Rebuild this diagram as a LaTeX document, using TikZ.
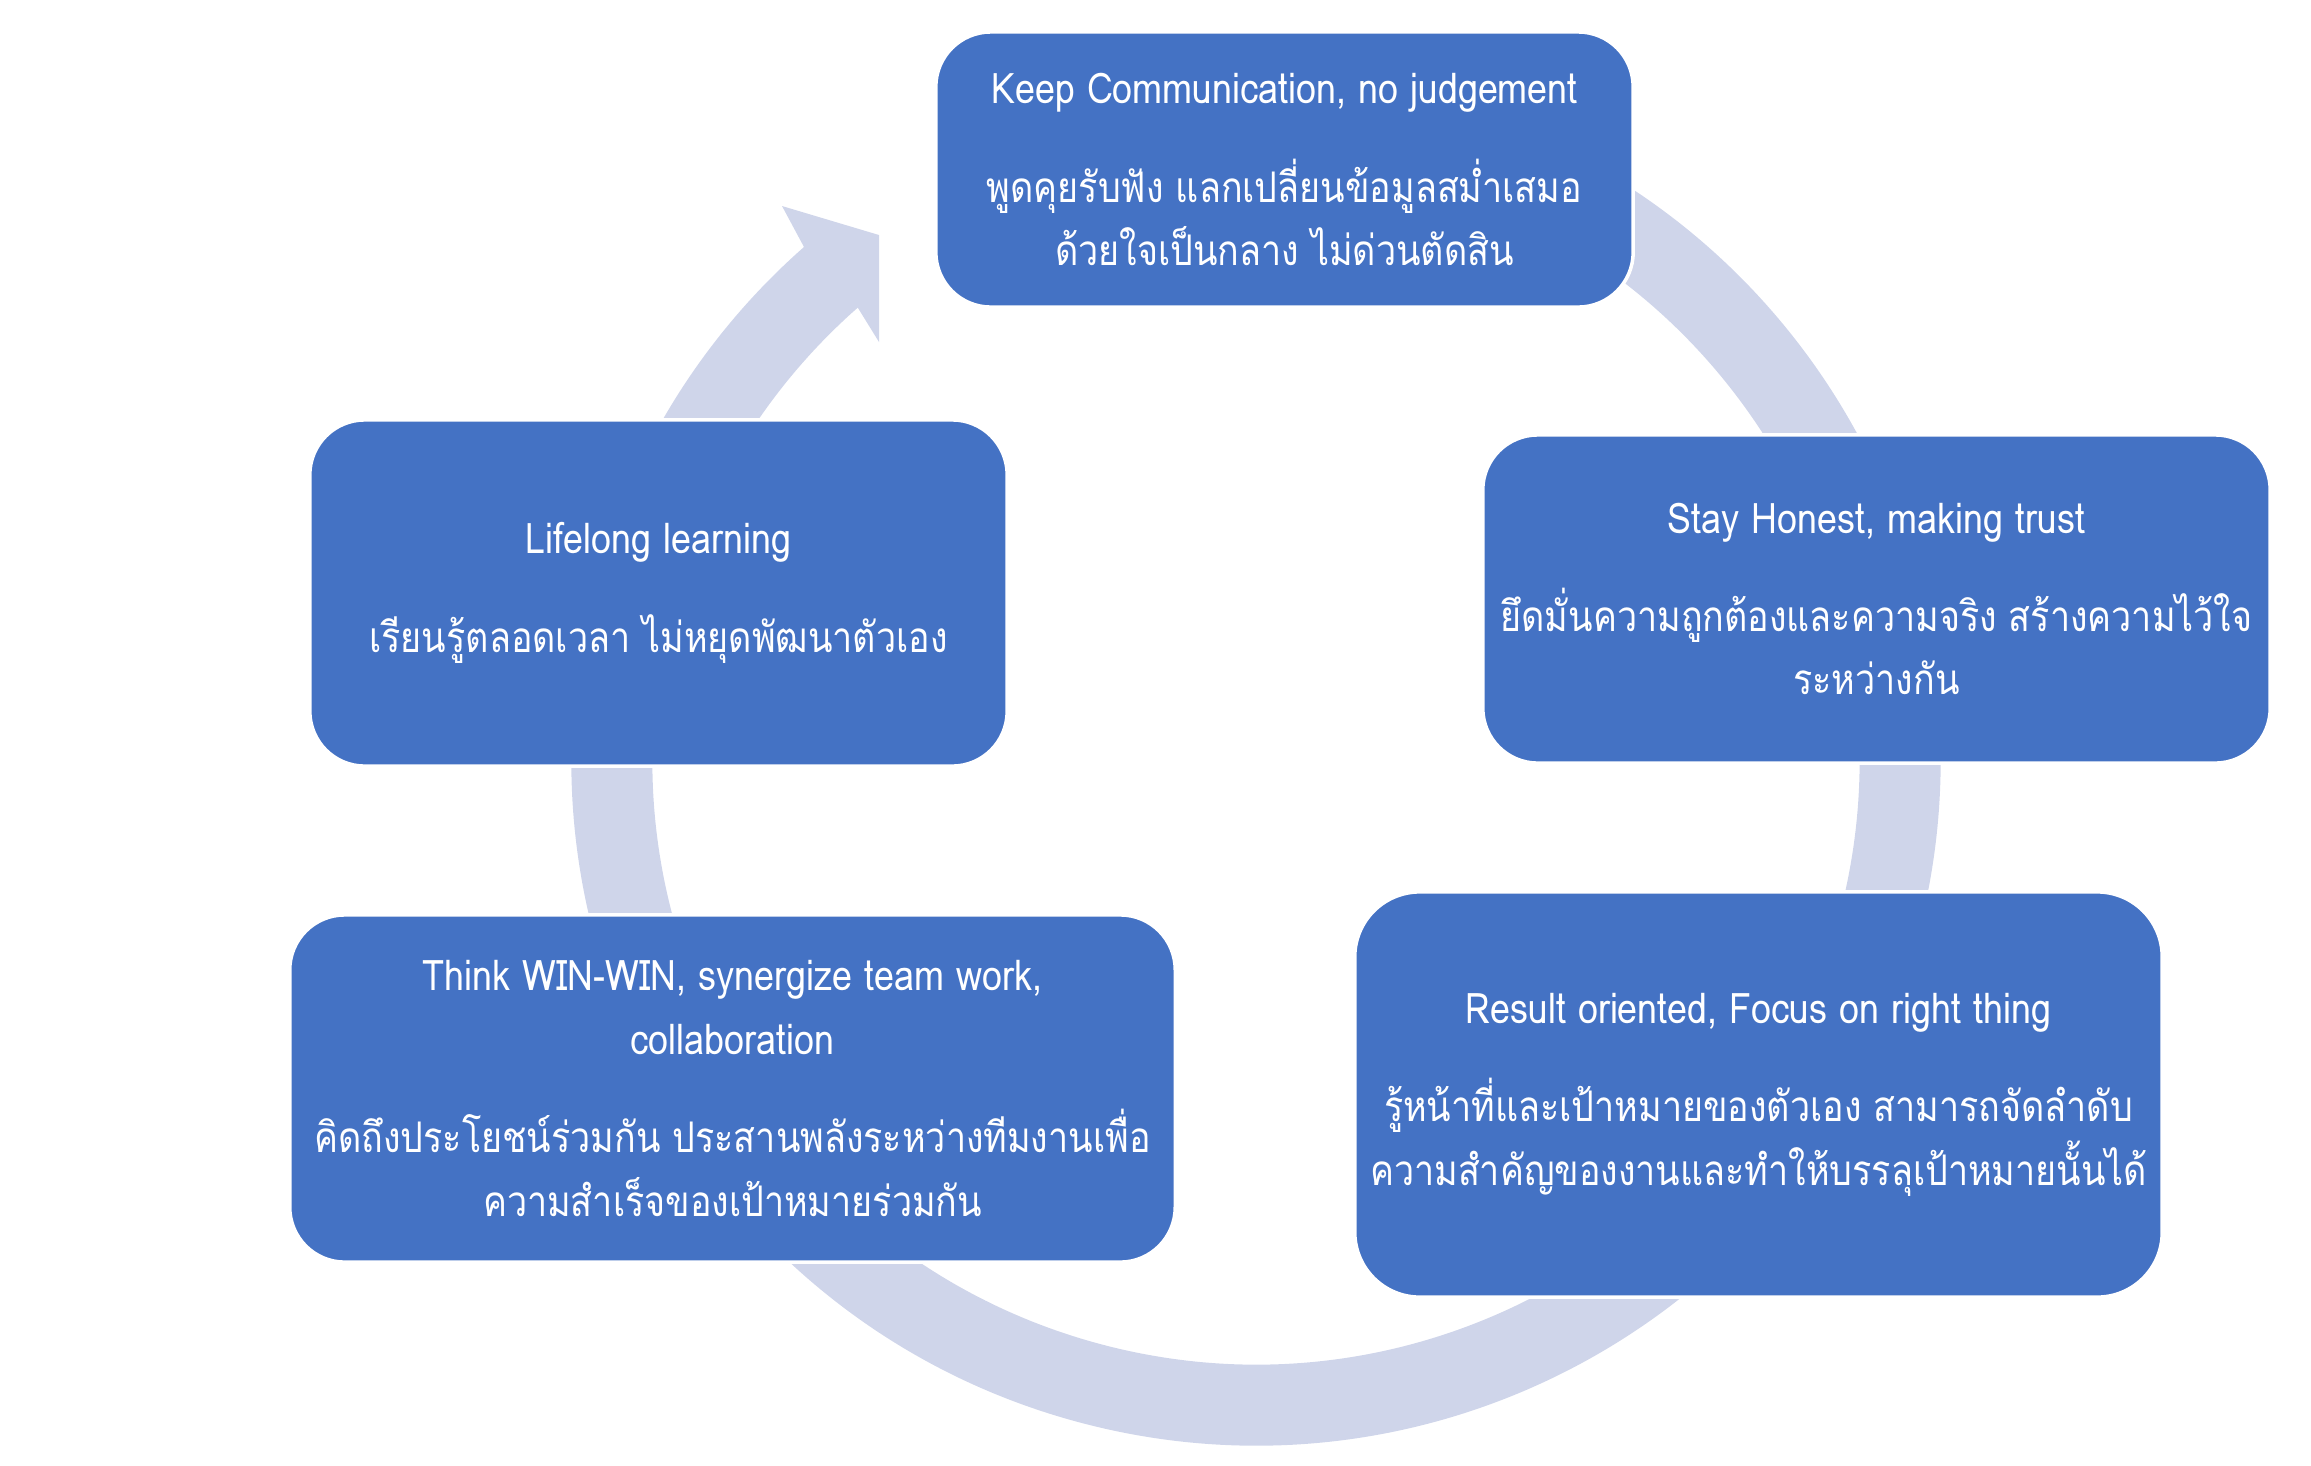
\documentclass[tikz,border=0pt]{standalone}
\usepackage{fontspec}
\setmainfont[Script=Thai, FakeStretch=0.85]{Loma}
\definecolor{boxblue}{HTML}{4472C4}
\definecolor{ringblue}{HTML}{CFD5EA}

\begin{document}
\begin{tikzpicture}[x=0.01cm, y=0.01cm, stage/.style = {draw=white, line width=1pt, fill=boxblue, rounded corners=0.55cm, text=white, align=center, inner sep=0pt, font=\fontsize{12}{18}\selectfont}]
		\useasboundingbox (0,0) rectangle (2311,-1465);
		\coordinate (c) at (1256,-761);
		% ring and its head
		\draw[ringblue, line width=0.81cm] (c) ++(75:644) arc (75:-229.5:644);
		\fill[ringblue] (804,-247) -- (782,-206) -- (879,-235) -- (879,-342) -- (858,-308) -- cycle;
		\node[stage, minimum width=6.97cm, minimum height=2.75cm] (1) at (1284.5,-169.5) {Keep Communication, no judgement\\[10pt] พูดคุยรับฟัง แลกเปลี่ยนข้อมูลสม่ำเสมอ\\ ด้วยใจเป็นกลาง ไม่ด่วนตัดสิน};
		\node[stage, minimum width=7.87cm, minimum height=3.28cm] (2) at (1876.5,-599) {Stay Honest, making trust\\[10pt] ยึดมั่นความถูกต้องและความจริง สร้างความไว้ใจ\\ ระหว่างกัน};
		\node[stage, minimum width=8.07cm, minimum height=4.05cm, rounded corners=0.65cm] (3) at (1758.5,-1094.5) {Result oriented, Focus on right thing\\[10pt] รู้หน้าที่และเป้าหมายของตัวเอง สามารถจัดลำดับ\\ ความสำคัญของงานและทำให้บรรลุเป้าหมายนั้นได้};
		\node[stage, minimum width=8.85cm, minimum height=3.47cm] (4) at (732.5,-1088.5) {Think WIN-WIN, synergize team work,\\ collaboration\\[10pt] คิดถึงประโยชน์ร่วมกัน ประสานพลังระหว่างทีมงานเพื่อ\\ ความสำเร็จของเป้าหมายร่วมกัน};
		\node[stage, minimum width=6.97cm, minimum height=3.46cm] (5) at (658.5,-593) {Lifelong learning\\[10pt] เรียนรู้ตลอดเวลา ไม่หยุดพัฒนาตัวเอง};
		\end{tikzpicture}
\end{document}
